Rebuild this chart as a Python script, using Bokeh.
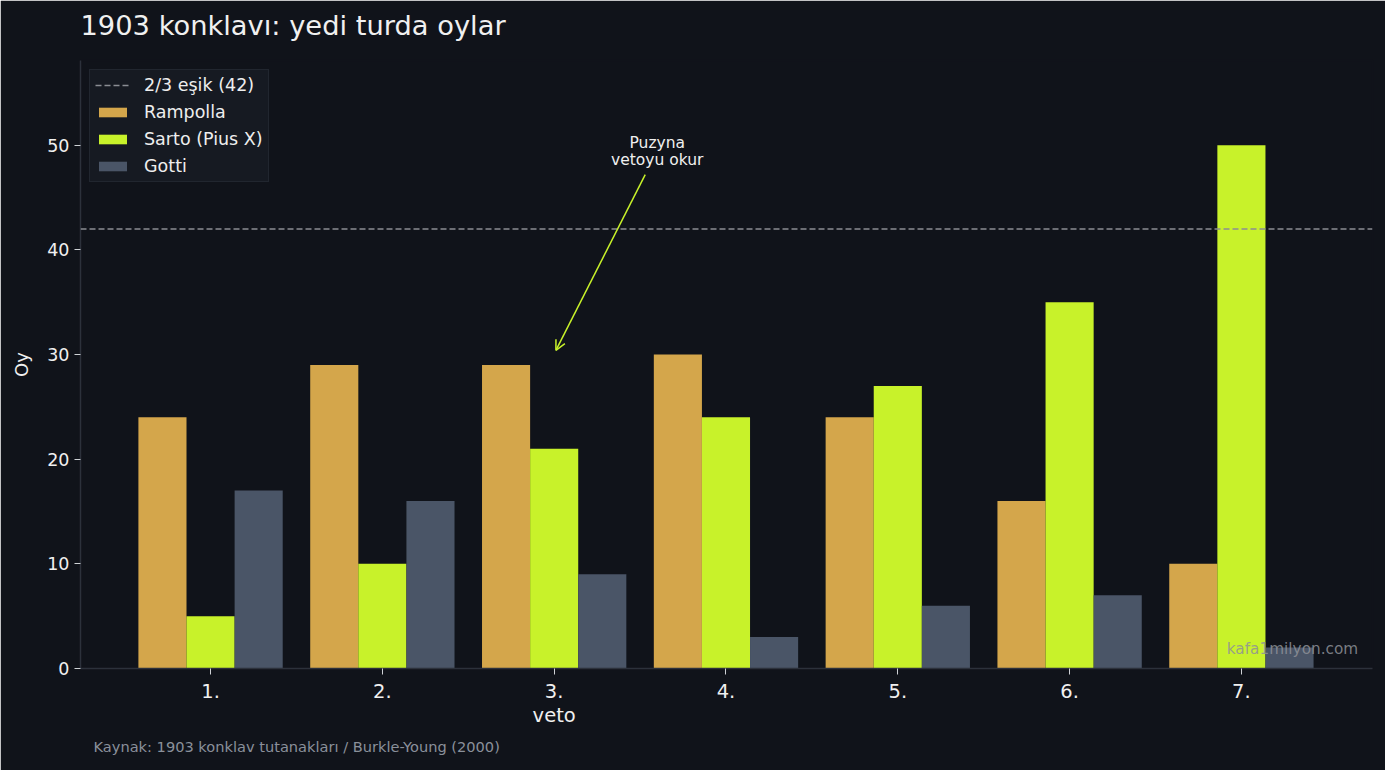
import numpy as np
from bokeh.plotting import figure
from bokeh.models import (ColumnDataSource, Span, Legend, LegendItem, Label, Arrow,
                          OpenHead, FixedTicker, Range1d, Title)
from bokeh.embed import file_html
from bokeh.resources import INLINE

rounds = ["1.", "2.", "3.\nveto", "4.", "5.", "6.", "7."]
rampolla = [24, 29, 29, 30, 24, 16, 10]
sarto = [5, 10, 21, 24, 27, 35, 50]
gotti = [17, 16, 9, 3, 6, 7, 2]
threshold = 42
series_names = ["Rampolla", "Sarto (Pius X)", "Gotti"]
series_colors = ["#d4a64b", "#c8f22a", "#4a5567"]

BG = "#10131a"
FONT = "DejaVu Sans"

p = figure(width=1385, height=770, output_backend="svg", toolbar_location=None,
           x_range=Range1d(-0.757, 6.763), y_range=Range1d(0, 58.1),
           background_fill_color=BG, border_fill_color=BG,
           outline_line_color=BG, outline_line_width=2,
           min_border_left=80, min_border_right=13, min_border_top=60, min_border_bottom=102)

p.title = None
# spacer between title and frame (added first -> nearest the frame)
p.add_layout(Title(text=" ", text_font=FONT, text_font_size="15px", standoff=0,
                   text_color=BG), "above")
p.add_layout(Title(text="1903 konklavı: yedi turda oylar", text_font=FONT,
                   text_font_size="27.3px", text_font_style="normal",
                   text_color="#f0f0f0", align="left", standoff=0), "above")

idx = np.arange(len(rounds))
bw = 0.28
renderers = []
for k, (vals, name, col) in enumerate(zip([rampolla, sarto, gotti], series_names, series_colors)):
    src = ColumnDataSource(dict(x=idx + (k - 1) * bw, top=vals))
    r = p.vbar(x="x", top="top", width=bw, bottom=0, source=src,
               fill_color=col, line_color=None)
    renderers.append(r)

THR_COLOR = "#8a8d93"
span = Span(location=threshold, dimension="width", line_color=THR_COLOR,
            line_dash="6 3", line_width=1.4)
p.add_layout(span)
# zero-length segment at the threshold, used only for the legend swatch
thr_r = p.line(x=[idx[0], idx[0]], y=[threshold, threshold], line_color=THR_COLOR,
               line_dash="6 3", line_width=1.4)

items = [LegendItem(label=f"2/3 eşik ({threshold})", renderers=[thr_r])]
for r, name in zip(renderers, series_names):
    items.append(LegendItem(label=name, renderers=[r]))
legend = Legend(items=items, location="top_left")
legend.background_fill_color = "#161a22"
legend.background_fill_alpha = 1.0
legend.border_line_color = "#2c313b"
legend.border_line_width = 1
legend.label_text_color = "#eeeeee"
legend.label_text_font = FONT
legend.label_text_font_size = "17.5px"
legend.glyph_width = 35
legend.glyph_height = 12
legend.label_height = 20
legend.spacing = 7
legend.padding = 5
legend.margin = 9
legend.label_standoff = 14
p.add_layout(legend)

# axes
p.xgrid.visible = False
p.ygrid.visible = False
p.xaxis.ticker = FixedTicker(ticks=list(idx))
p.xaxis.major_label_overrides = {int(i): lab for i, lab in zip(idx, rounds)}
p.yaxis.ticker = FixedTicker(ticks=[0, 10, 20, 30, 40, 50])
for ax in (p.xaxis, p.yaxis):
    ax.axis_line_color = "#2c313b"
    ax.axis_line_width = 1.5
    ax.major_tick_line_color = "#cfd2d6"
    ax.major_tick_out = 6
    ax.major_tick_in = 0
    ax.minor_tick_line_color = None
    ax.major_label_text_color = "#f0f0f0"
    ax.major_label_text_font = FONT
p.xaxis.major_label_text_font_size = "19.5px"
p.xaxis.major_label_text_line_height = 1.05
p.yaxis.major_label_text_font_size = "17.5px"
p.yaxis.axis_label = "Oy"
p.yaxis.axis_label_text_font = FONT
p.yaxis.axis_label_text_font_size = "18px"
p.yaxis.axis_label_text_font_style = "normal"
p.yaxis.axis_label_text_color = "#f0f0f0"
p.yaxis.axis_label_standoff = 12

# annotation
p.add_layout(Arrow(end=OpenHead(size=10, line_color="#c8f22a", line_width=1.5),
                   x_start=2.53, y_start=47.2, x_end=2.01, y_end=30.4,
                   line_color="#c8f22a", line_width=1.5))
p.add_layout(Label(x=2.60, y=49.4, text="Puzyna\nvetoyu okur", text_align="center",
                   text_baseline="middle", text_color="#f0f0f0", text_font=FONT,
                   text_font_size="15.5px", text_line_height=0.95))

# watermark
p.add_layout(Label(x=6.68, y=1.9, text="kafa1milyon.com", text_align="right",
                   text_baseline="middle", text_color="#8e9198", text_alpha=0.85,
                   text_font=FONT, text_font_size="15.3px"))

# caption below the axis
cap = Title(text="Kaynak: 1903 konklav tutanakları / Burkle-Young (2000)", align="left",
            text_font=FONT, text_font_size="14.6px", text_font_style="normal",
            text_color="#8a909a", offset=13, standoff=12)
p.add_layout(cap, "below")

open("out.html", "w").write(file_html(p, INLINE))
